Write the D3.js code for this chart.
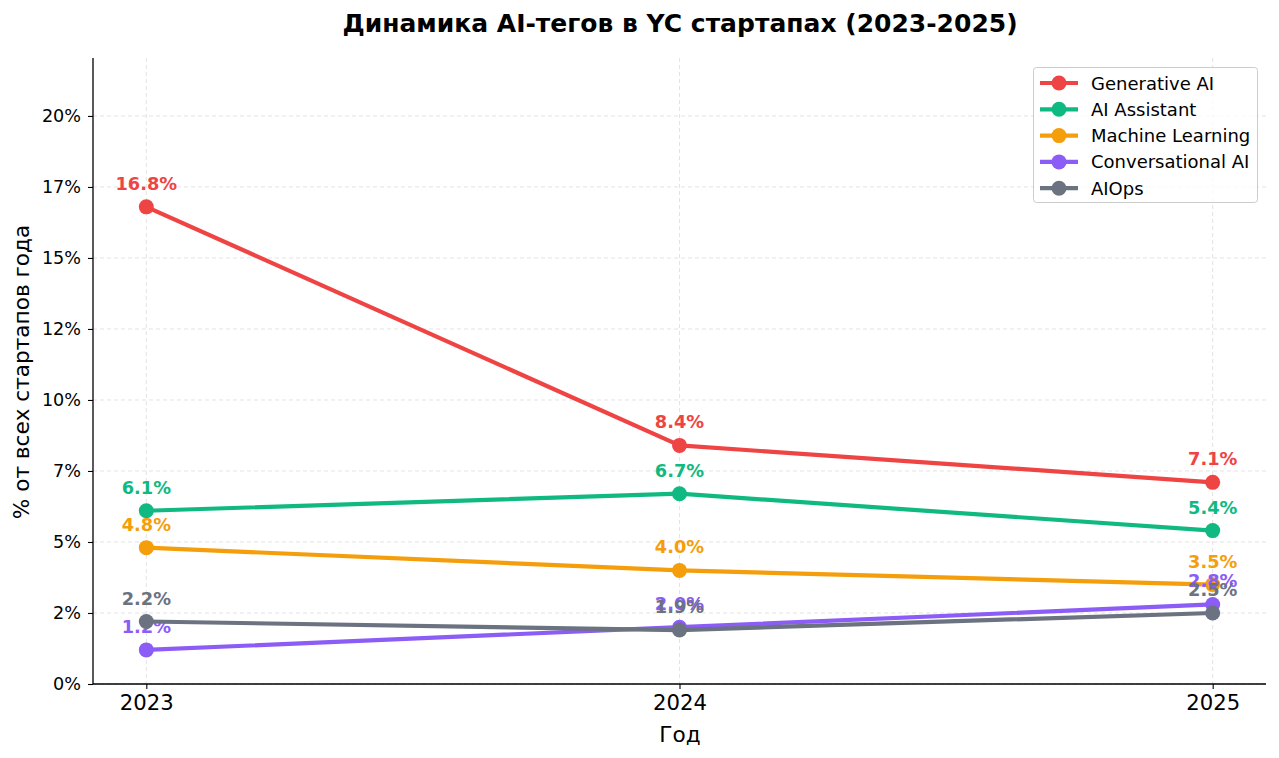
<!DOCTYPE html>
<html><head><meta charset="utf-8">
<script src="https://cdn.jsdelivr.net/npm/d3@7"></script>
<style>body{margin:0;background:#fff}svg{display:block}text{font-family:"DejaVu Sans",sans-serif}</style>
</head><body><svg id="c" width="1279" height="758"></svg>
<script>
const years = [2023, 2024, 2025];
const seriesNames = ["Generative AI", "AI Assistant", "Machine Learning", "Conversational AI", "AIOps"];
const generativeAI = [16.8, 8.4, 7.1];
const aiAssistant = [6.1, 6.7, 5.4];
const machineLearning = [4.8, 4.0, 3.5];
const conversationalAI = [1.2, 2.0, 2.8];
const aiOps = [2.2, 1.9, 2.5];
const colors = ["#ef4444", "#10b981", "#f59e0b", "#8b5cf6", "#6b7280"];
const yTicks = [0, 2.5, 5, 7.5, 10, 12.5, 15, 17.5, 20];
const yTickLabels = ["0%", "2%", "5%", "7%", "10%", "12%", "15%", "17%", "20%"];
const seriesValues = [generativeAI, aiAssistant, machineLearning, conversationalAI, aiOps];

const svg = d3.select("#c");
const L = 93, R = 1266, T = 58, B = 684;
const x = d3.scaleLinear().domain([2022.9, 2025.1]).range([L, R]);
const y = d3.scaleLinear().domain([0, 22.04]).range([B, T]);

// grid
const g = svg.append("g");
g.selectAll(".gy").data(yTicks).join("line")
  .attr("x1", L).attr("x2", R).attr("y1", d => y(d)).attr("y2", d => y(d))
  .attr("stroke", "#e3e3e3").attr("stroke-width", 1).attr("stroke-dasharray", "4,3");
g.selectAll(".gx").data(years).join("line")
  .attr("y1", T).attr("y2", B).attr("x1", d => x(d)).attr("x2", d => x(d))
  .attr("stroke", "#e3e3e3").attr("stroke-width", 1).attr("stroke-dasharray", "4,3");

// axes
const yAxis = d3.axisLeft(y).tickValues(yTicks).tickFormat((d, i) => yTickLabels[i]).tickSizeOuter(0).tickSize(5).tickPadding(7);
const ya = svg.append("g").attr("transform", `translate(${L},0)`).call(yAxis);
ya.select(".domain").attr("stroke", "#000").attr("stroke-width", 1.3).attr("d", `M0,${T}V${B}`);
ya.selectAll("text").attr("font-size", 17.6).attr("fill", "#000").attr("font-family", "DejaVu Sans");
ya.selectAll(".tick line").attr("stroke", "#000").attr("stroke-width", 1.1);

const xAxis = d3.axisBottom(x).tickValues(years).tickFormat(d3.format("d")).tickSizeOuter(0).tickSize(5).tickPadding(6);
const xa = svg.append("g").attr("transform", `translate(0,${B})`).call(xAxis);
xa.select(".domain").attr("stroke", "#000").attr("stroke-width", 1.3).attr("d", `M${L},0H${R}`);
xa.selectAll("text").attr("font-size", 21.2).attr("fill", "#000").attr("font-family", "DejaVu Sans");
xa.selectAll(".tick line").attr("stroke", "#000").attr("stroke-width", 1.1);

// labels
svg.append("text").attr("x", 680).attr("y", 32).attr("text-anchor", "middle")
  .attr("font-size", 25).attr("font-weight", "bold").text("Динамика AI-тегов в YC стартапах (2023-2025)");
svg.append("text").attr("x", 680).attr("y", 742).attr("text-anchor", "middle")
  .attr("font-size", 21.6).text("Год");
svg.append("text").attr("transform", "translate(29,372) rotate(-90)").attr("text-anchor", "middle")
  .attr("font-size", 21.6).text("% от всех стартапов года");

// series
const line = d3.line().x((d, i) => x(years[i])).y(d => y(d));
seriesValues.forEach((vals, si) => {
  const sg = svg.append("g");
  sg.append("path").datum(vals).attr("d", line).attr("fill", "none")
    .attr("stroke", colors[si]).attr("stroke-width", 4.2).attr("stroke-linejoin", "round").attr("stroke-linecap", "round");
  sg.selectAll("circle").data(vals).join("circle")
    .attr("cx", (d, i) => x(years[i])).attr("cy", d => y(d)).attr("r", 7.5).attr("fill", colors[si]);
  sg.selectAll("text").data(vals).join("text")
    .attr("x", (d, i) => x(years[i])).attr("y", d => y(d) - 17)
    .attr("text-anchor", "middle").attr("font-size", 17.8).attr("font-weight", "bold")
    .attr("fill", colors[si]).text(d => d.toFixed(1) + "%");
});

// legend
const lg = svg.append("g");
lg.append("rect").attr("x", 1033.5).attr("y", 67.5).attr("width", 224).attr("height", 135).attr("rx", 3)
  .attr("fill", "#fff").attr("fill-opacity", 0.8).attr("stroke", "#cccccc").attr("stroke-width", 1);
seriesNames.forEach((name, i) => {
  const cy = 83 + i * 26.3;
  lg.append("line").attr("x1", 1040).attr("x2", 1078).attr("y1", cy).attr("y2", cy)
    .attr("stroke", colors[i]).attr("stroke-width", 4.2);
  lg.append("circle").attr("cx", 1059).attr("cy", cy).attr("r", 7.5).attr("fill", colors[i]);
  lg.append("text").attr("x", 1091).attr("y", cy + 6.5).attr("font-size", 18).text(name);
});
</script></body></html>
